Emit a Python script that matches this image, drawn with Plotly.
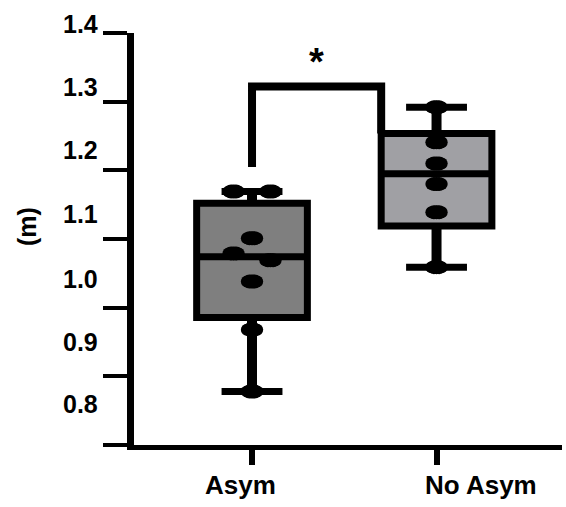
import numpy as np
import plotly.graph_objects as go

# ---- data ----
categories = ["Asym", "No Asym"]
asym_values = [1.169, 1.169, 1.101, 1.079, 1.069, 1.038, 0.968, 0.878]
asym_jitter = [-0.1, 0.1, 0.0, -0.1, 0.1, 0.0, 0.0, 0.0]
noasym_values = [1.292, 1.241, 1.210, 1.180, 1.139, 1.059]
noasym_jitter = [0, 0, 0, 0, 0, 0]
ytick_vals = [0.8, 0.9, 1.0, 1.1, 1.2, 1.3, 1.4]
ytick_text = ["0.8", "0.9", "1.0", "1.1", "1.2", "1.3", "1.4"]
sig_label = "*"
y_title = "(m)"

# ---- style ----
FONT = "Liberation Sans, Arial, sans-serif"
fills = ["#7f7f7f", "#a0a0a4"]
box_w = 0.6
ylabel_shift = [41, 34, 29, 25, 20, 15, 9]   # label offsets (px) as in reference
xlabel_shift = [-12, 44]
dot_offsets = [-0.028, -0.014, 0.0, 0.014, 0.028]  # elongated dot from overlapping circles
dot_sizes = [12, 14, 14, 14, 12]

groups = [asym_values, noasym_values]
jitters = [asym_jitter, noasym_jitter]

fig = go.Figure()
stats = []
for i, vals in enumerate(groups):
    v = np.array(vals)
    q1, med, q3 = np.percentile(v, [25, 50, 75], method="weibull")
    stats.append((q1, med, q3, v.min(), v.max()))
    fig.add_trace(go.Box(
        x=[i], q1=[q1], median=[med], q3=[q3],
        lowerfence=[v.min()], upperfence=[v.max()],
        width=box_w, whiskerwidth=0.55,
        fillcolor=fills[i], line=dict(color="black", width=7),
        boxpoints=False, showlegend=False, hoverinfo="skip",
    ))
# thicker whisker stems (outside the box only)
for i, (q1, med, q3, lo, hi) in enumerate(stats):
    fig.add_trace(go.Scatter(
        x=[i, i, None, i, i], y=[lo, q1, None, q3, hi], mode="lines",
        line=dict(color="black", width=10),
        showlegend=False, hoverinfo="skip",
    ))
for i, (vals, jit) in enumerate(zip(groups, jitters)):
    for d, sz in zip(dot_offsets, dot_sizes):
        fig.add_trace(go.Scatter(
            x=[i + j + d for j in jit], y=vals, mode="markers",
            marker=dict(color="black", size=sz, line=dict(width=0)),
            showlegend=False, hoverinfo="skip",
        ))

# significance bracket
bracket_left_bottom = 1.205
bracket_top = 1.322
q3_no = stats[1][2]
x_right = 1 - box_w / 2
fig.add_shape(type="path",
              path=f"M 0,{bracket_left_bottom} L 0,{bracket_top} L {x_right},{bracket_top} L {x_right},{q3_no}",
              xref="x", yref="y", line=dict(color="black", width=8))

ann = []
ann.append(dict(x=x_right / 2, y=bracket_top, xref="x", yref="y", text=sig_label,
                showarrow=False, yanchor="bottom", yshift=2,
                font=dict(family=FONT, size=38, color="black", weight="bold")))
for v, t, sh in zip(ytick_vals, ytick_text, ylabel_shift):
    ann.append(dict(x=0, y=v, xref="paper", yref="y", text=f"<b>{t}</b>",
                    showarrow=False, xanchor="right", yanchor="middle",
                    xshift=-34, yshift=sh,
                    font=dict(family=FONT, size=25, color="black")))
for i, (c, sh) in enumerate(zip(categories, xlabel_shift)):
    ann.append(dict(x=i, y=0, xref="x", yref="paper", text=f"<b>{c}</b>",
                    showarrow=False, xanchor="center", yanchor="middle",
                    xshift=sh, yshift=-40,
                    font=dict(family=FONT, size=26, color="black")))
ann.append(dict(x=0, y=0.5, xref="paper", yref="paper", text=f"<b>{y_title}</b>",
                showarrow=False, textangle=-90, xanchor="center", yanchor="middle",
                xshift=-107, yshift=12,
                font=dict(family=FONT, size=25, color="black")))

fig.update_layout(
    width=566, height=507,
    margin=dict(l=134, r=4, t=33, b=62),
    plot_bgcolor="white", paper_bgcolor="white",
    annotations=ann,
    xaxis=dict(range=[-0.6396, 1.680], tickvals=[0, 1], showticklabels=False,
               ticks="outside", ticklen=15, tickwidth=6, tickcolor="black",
               showline=True, linewidth=5, linecolor="black",
               showgrid=False, zeroline=False),
    yaxis=dict(range=[0.8, 1.4], tickvals=ytick_vals, showticklabels=False,
               ticks="outside", ticklen=24, tickwidth=4, tickcolor="black",
               showline=True, linewidth=7, linecolor="black",
               showgrid=False, zeroline=False),
)
fig.write_html("out.html")
